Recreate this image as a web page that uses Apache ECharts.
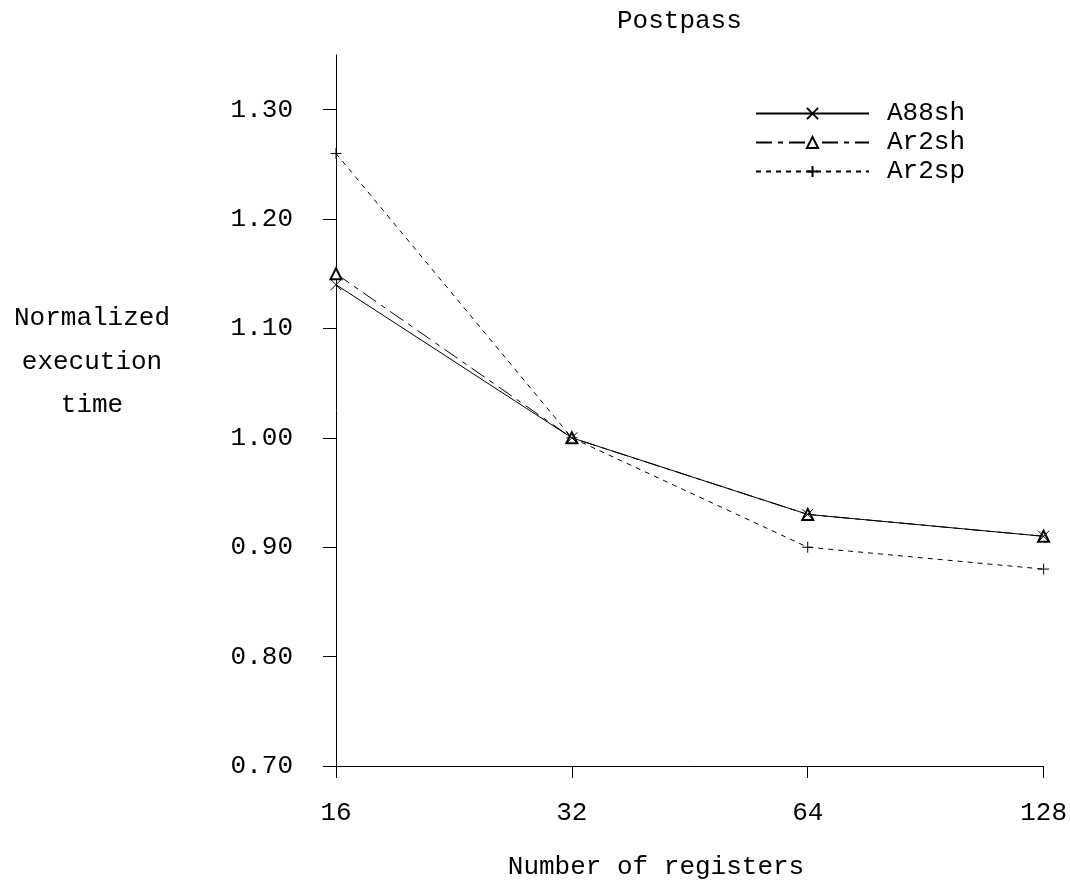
<!DOCTYPE html>
<html>
<head>
<meta charset="utf-8">
<script src="https://cdn.jsdelivr.net/npm/echarts@6/dist/echarts.min.js"></script>
<style>html,body{margin:0;padding:0;background:#fff;}#c{width:1070px;height:884px;}</style>
</head>
<body>
<div id="c"></div>
<script>
const categories = ['16', '32', '64', '128'];
const a88sh = [1.14, 1.00, 0.93, 0.91];
const ar2sh = [1.15, 1.00, 0.93, 0.91];
const ar2sp = [1.26, 1.00, 0.90, 0.88];
const yTicks = [0.70, 0.80, 0.90, 1.00, 1.10, 1.20, 1.30];
const seriesNames = ['A88sh', 'Ar2sh', 'Ar2sp'];

const FONT = '"Liberation Mono", "DejaVu Sans Mono", monospace';
const FS = 26;
const crossPath = 'path://M0,0L10,10M10,0L0,10';
const plusPath = 'path://M5,0L5,10M0,5L10,5';

const chart = echarts.init(document.getElementById('c'), null, {renderer: 'canvas'});
function mkSeries(name, data, symbol, size, dash, z) {
  return {
    name: name, type: 'line', data: data, z: z,
    symbol: symbol, symbolSize: size,
    showAllSymbol: true,
    lineStyle: {color: '#000', width: 1, type: dash},
    itemStyle: {color: symbol.indexOf('empty') === 0 ? '#000' : 'rgba(0,0,0,0)', borderColor: '#000', borderWidth: 1},
    emphasis: {disabled: true},
    animation: false
  };
}
chart.setOption({
  animation: false,
  backgroundColor: '#fff',
  grid: {left: 336, right: 23, top: 55, bottom: 118, containLabel: false},
  title: {
    text: 'Postpass', left: 612, top: 3,
    textStyle: {fontFamily: FONT, fontSize: FS, fontWeight: 'normal', color: '#000'}
  },
  legend: {
    orient: 'vertical', left: 755, top: 100, padding: 0,
    itemWidth: 113, itemHeight: 14, itemGap: 2,
    data: seriesNames,
    textStyle: {fontFamily: FONT, fontSize: FS, color: '#000', padding: [0, 0, 0, 13], lineHeight: 27}
  },
  xAxis: {
    type: 'category', data: categories, boundaryGap: false,
    axisLine: {lineStyle: {color: '#000', width: 1}},
    axisTick: {show: true, length: 12, interval: 0, lineStyle: {color: '#000'}},
    axisLabel: {fontFamily: FONT, fontSize: FS, color: '#000', margin: 34, interval: 0}
  },
  yAxis: {
    type: 'value', min: 0.7, max: 1.35,
    splitLine: {show: false},
    axisLine: {show: true, lineStyle: {color: '#000', width: 1}},
    axisTick: {show: true, length: 13, customValues: yTicks, lineStyle: {color: '#000'}},
    axisLabel: {customValues: yTicks, fontFamily: FONT, fontSize: FS, color: '#000', margin: 43,
      formatter: v => v.toFixed(2)}
  },
  graphic: [
    {type: 'text', x: 92, y: 318, style: {text: 'Normalized', font: FS + 'px ' + FONT, fill: '#000', textAlign: 'center', textVerticalAlign: 'middle'}},
    {type: 'text', x: 92, y: 362, style: {text: 'execution', font: FS + 'px ' + FONT, fill: '#000', textAlign: 'center', textVerticalAlign: 'middle'}},
    {type: 'text', x: 92, y: 405, style: {text: 'time', font: FS + 'px ' + FONT, fill: '#000', textAlign: 'center', textVerticalAlign: 'middle'}},
    {type: 'text', x: 656, y: 867, style: {text: 'Number of registers', font: FS + 'px ' + FONT, fill: '#000', textAlign: 'center', textVerticalAlign: 'middle'}}
  ],
  series: [
    mkSeries('A88sh', a88sh, crossPath, 11, 'solid', 4),
    mkSeries('Ar2sh', ar2sh, 'emptyTriangle', 11, [16, 6, 5, 6], 3),
    mkSeries('Ar2sp', ar2sp, plusPath, 11, [5, 5], 2)
  ]
});
</script>
</body>
</html>
